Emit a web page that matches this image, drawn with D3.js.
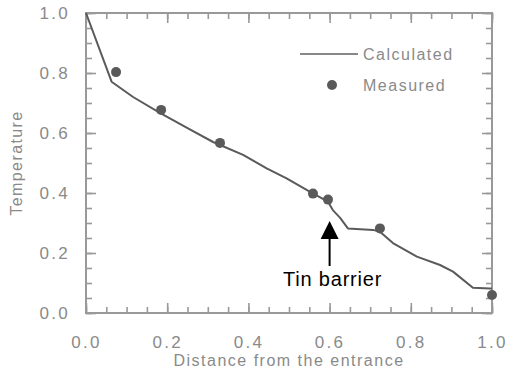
<!DOCTYPE html>
<html>
<head>
<meta charset="utf-8">
<script src="https://cdn.jsdelivr.net/npm/d3@7"></script>
<style>
  body { margin: 0; background: #fff; }
  svg { display: block; font-family: "Liberation Sans", Arial, sans-serif; }
</style>
</head>
<body>
<script>
// calculated temperature profile (distance, temperature)
var calcX = [0, 0.063, 0.116, 0.182, 0.249, 0.313, 0.387, 0.445, 0.494, 0.552, 0.596, 0.608, 0.626, 0.645, 0.707, 0.724, 0.756, 0.815, 0.872, 0.904, 0.953, 0.995, 1.0];
var calcY = [1.0, 0.771, 0.720, 0.667, 0.617, 0.570, 0.527, 0.482, 0.449, 0.404, 0.371, 0.343, 0.317, 0.282, 0.277, 0.271, 0.233, 0.188, 0.160, 0.138, 0.084, 0.082, 0.082];

// measured points
var measX = [0.074, 0.185, 0.330, 0.559, 0.596, 0.724, 1.0];
var measY = [0.803, 0.677, 0.567, 0.398, 0.378, 0.282, 0.060];

var majorTicks = [0, 0.2, 0.4, 0.6, 0.8, 1.0];
var minorTicks = d3.range(0, 21).map(function(i) { return i * 0.05; });

var W = 510, H = 374;
var pLeft = 86, pRight = 492, pTop = 13, pBottom = 313;

var axisColor = "#999";
var textColor = "#8a8a8a";
var dataColor = "#5a5a5a";

var svg = d3.select("body").append("svg")
    .attr("width", W)
    .attr("height", H);

var x = d3.scaleLinear().domain([0, 1]).range([pLeft, pRight]);
var y = d3.scaleLinear().domain([0, 1]).range([pBottom, pTop]);

function styleAxis(g) {
  g.select(".domain").remove();
  g.selectAll("line").attr("stroke", axisColor).attr("stroke-width", 1.6);
  g.selectAll("text")
    .attr("fill", textColor)
    .style("font-size", "17px")
    .style("letter-spacing", "2.3px");
}

// minor ticks, all four sides
svg.append("g").attr("transform", "translate(0," + pBottom + ")")
  .call(d3.axisBottom(x).tickValues(minorTicks).tickSize(-6).tickFormat("")).call(styleAxis);
svg.append("g").attr("transform", "translate(0," + pTop + ")")
  .call(d3.axisTop(x).tickValues(minorTicks).tickSize(-6).tickFormat("")).call(styleAxis);
svg.append("g").attr("transform", "translate(" + pLeft + ",0)")
  .call(d3.axisLeft(y).tickValues(minorTicks).tickSize(-6).tickFormat("")).call(styleAxis);
svg.append("g").attr("transform", "translate(" + pRight + ",0)")
  .call(d3.axisRight(y).tickValues(minorTicks).tickSize(-6).tickFormat("")).call(styleAxis);

// major ticks with labels
svg.append("g").attr("transform", "translate(0," + pBottom + ")")
  .call(d3.axisBottom(x).tickValues(majorTicks).tickSize(-10).tickPadding(23).tickFormat(d3.format(".1f")))
  .call(styleAxis);
svg.append("g").attr("transform", "translate(" + pLeft + ",0)")
  .call(d3.axisLeft(y).tickValues(majorTicks).tickSize(-10).tickPadding(16).tickFormat(d3.format(".1f")))
  .call(styleAxis);
svg.append("g").attr("transform", "translate(0," + pTop + ")")
  .call(d3.axisTop(x).tickValues(majorTicks).tickSize(-10).tickFormat("")).call(styleAxis);
svg.append("g").attr("transform", "translate(" + pRight + ",0)")
  .call(d3.axisRight(y).tickValues(majorTicks).tickSize(-10).tickFormat("")).call(styleAxis);

// frame
svg.append("rect")
  .attr("x", pLeft).attr("y", pTop)
  .attr("width", pRight - pLeft).attr("height", pBottom - pTop)
  .attr("fill", "none")
  .attr("stroke", axisColor)
  .attr("stroke-width", 2);

// calculated line
var calc = calcX.map(function(d, i) { return [d, calcY[i]]; });
var line = d3.line()
  .x(function(d) { return x(d[0]); })
  .y(function(d) { return y(d[1]); });

svg.append("path")
  .datum(calc)
  .attr("d", line)
  .attr("fill", "none")
  .attr("stroke", dataColor)
  .attr("stroke-width", 2)
  .attr("stroke-linejoin", "round");

// measured points
svg.selectAll("circle.meas")
  .data(measX.map(function(d, i) { return [d, measY[i]]; }))
  .enter().append("circle")
  .attr("class", "meas")
  .attr("cx", function(d) { return x(d[0]); })
  .attr("cy", function(d) { return y(d[1]); })
  .attr("r", 5)
  .attr("fill", dataColor);

// legend
var legend = svg.append("g");
legend.append("line")
  .attr("x1", 300).attr("x2", 358)
  .attr("y1", 54).attr("y2", 54)
  .attr("stroke", "#888")
  .attr("stroke-width", 2);
legend.append("text")
  .attr("x", 363).attr("y", 60)
  .attr("fill", textColor)
  .style("font-size", "16px")
  .style("letter-spacing", "1.5px")
  .text("Calculated");
legend.append("circle")
  .attr("cx", 332).attr("cy", 85)
  .attr("r", 5)
  .attr("fill", dataColor);
legend.append("text")
  .attr("x", 363).attr("y", 91)
  .attr("fill", textColor)
  .style("font-size", "16px")
  .style("letter-spacing", "1.5px")
  .text("Measured");

// axis titles
svg.append("text")
  .attr("x", (pLeft + pRight) / 2).attr("y", 366)
  .attr("text-anchor", "middle")
  .attr("fill", textColor)
  .style("font-size", "16px")
  .style("letter-spacing", "1.5px")
  .text("Distance from the entrance");

svg.append("text")
  .attr("transform", "translate(22," + ((pTop + pBottom) / 2) + ") rotate(-90)")
  .attr("text-anchor", "middle")
  .attr("fill", textColor)
  .style("font-size", "16px")
  .style("letter-spacing", "1.4px")
  .text("Temperature");

// annotation: tin barrier
var ax = x(0.6);
svg.append("line")
  .attr("x1", ax).attr("x2", ax)
  .attr("y1", 237).attr("y2", 266)
  .attr("stroke", "#000")
  .attr("stroke-width", 2);
svg.append("path")
  .attr("d", "M" + ax + ",221 L" + (ax - 9) + ",239 L" + (ax + 9) + ",239 Z")
  .attr("fill", "#000");
svg.append("text")
  .attr("x", 283).attr("y", 286)
  .attr("fill", "#000")
  .style("font-size", "20px")
  .style("letter-spacing", "0.8px")
  .text("Tin barrier");
</script>
</body>
</html>
